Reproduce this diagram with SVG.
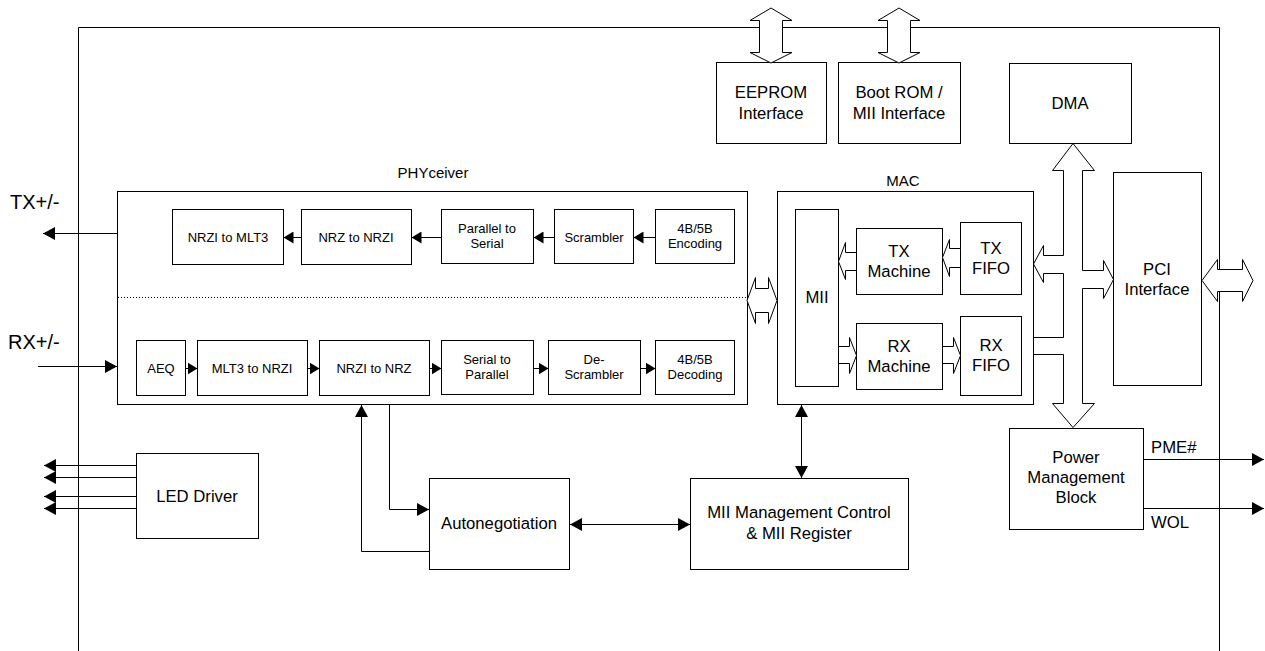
<svg xmlns="http://www.w3.org/2000/svg" width="1265" height="651" viewBox="0 0 1265 651">
<style>
.box{fill:#fff;stroke:#000;stroke-width:1}
.ln{fill:none;stroke:#000;stroke-width:1}
.hol{fill:#fff;stroke:#000;stroke-width:1}
text{font-family:"Liberation Sans",Arial,sans-serif;fill:#000;text-anchor:middle}
.t13{font-size:13px}
.t15{font-size:15px}
.t16{font-size:16.7px}
.t20{font-size:20px;text-anchor:start}
.lbl{font-size:16.7px;text-anchor:start}
</style>
<defs>
<marker id="ah" viewBox="0 0 12 12" refX="12" refY="6" markerWidth="12" markerHeight="13" markerUnits="userSpaceOnUse" orient="auto-start-reverse" preserveAspectRatio="none"><path d="M0,0 L12,6 L0,12 z" fill="#000"/></marker>
<marker id="as" viewBox="0 0 10 12" refX="10" refY="6" markerWidth="10" markerHeight="12" markerUnits="userSpaceOnUse" orient="auto-start-reverse"><path d="M0,0 L10,6 L0,12 z" fill="#000"/></marker>
</defs>
<rect width="1265" height="651" fill="#fff"/>
<g id="border"><path class="ln" d="M78.5,651 V27.5 H1219.5 V651"/></g>

<g id="eeprom"><rect class="box" x="716.5" y="62.5" width="110" height="81"/><text class="t16" x="771" y="98">EEPROM</text><text class="t16" x="771" y="119">Interface</text></g>
<g id="bootrom"><rect class="box" x="838.5" y="62.5" width="122" height="81"/><text class="t16" x="899" y="98">Boot ROM /</text><text class="t16" x="899" y="119">MII Interface</text></g>
<g id="dma"><rect class="box" x="1009.5" y="63.5" width="122" height="80"/><text class="t16" x="1070" y="109">DMA</text></g>

<g id="phyceiver"><text class="t15" x="433" y="178">PHYceiver</text><rect class="box" x="117.5" y="191.5" width="630" height="213"/><path d="M118,297.5 H747" fill="none" stroke="#000" stroke-width="1" stroke-dasharray="1,2"/></g>
<g id="nrzi2mlt3"><rect class="box" x="172.5" y="209.5" width="111" height="55"/><text class="t13" x="228" y="242">NRZI to MLT3</text></g>
<g id="nrz2nrzi"><rect class="box" x="301.5" y="209.5" width="110" height="55"/><text class="t13" x="356" y="242">NRZ to NRZI</text></g>
<g id="p2s"><rect class="box" x="441.5" y="209.5" width="92" height="54"/><text class="t13" x="487" y="233">Parallel to</text><text class="t13" x="487" y="248">Serial</text></g>
<g id="scrambler"><rect class="box" x="554.5" y="209.5" width="79" height="54"/><text class="t13" x="594" y="242">Scrambler</text></g>
<g id="enc"><rect class="box" x="655.5" y="209.5" width="79" height="54"/><text class="t13" x="695" y="233">4B/5B</text><text class="t13" x="695" y="248">Encoding</text></g>
<g id="aeq"><rect class="box" x="136.5" y="340.5" width="49" height="55"/><text class="t13" x="161" y="373">AEQ</text></g>
<g id="mlt32nrzi"><rect class="box" x="197.5" y="340.5" width="110" height="55"/><text class="t13" x="252" y="373">MLT3 to NRZI</text></g>
<g id="nrzi2nrz"><rect class="box" x="319.5" y="340.5" width="110" height="55"/><text class="t13" x="374" y="373">NRZI to NRZ</text></g>
<g id="s2p"><rect class="box" x="441.5" y="340.5" width="92" height="54"/><text class="t13" x="487" y="364">Serial to</text><text class="t13" x="487" y="379">Parallel</text></g>
<g id="descr"><rect class="box" x="548.5" y="340.5" width="92" height="54"/><text class="t13" x="594" y="364">De-</text><text class="t13" x="594" y="379">Scrambler</text></g>
<g id="dec"><rect class="box" x="655.5" y="340.5" width="79" height="54"/><text class="t13" x="695" y="364">4B/5B</text><text class="t13" x="695" y="379">Decoding</text></g>

<g id="mac"><text class="t15" x="903" y="186">MAC</text><rect class="box" x="777.5" y="191.5" width="256" height="213"/></g>
<g id="mii"><rect class="box" x="795.5" y="209.5" width="43" height="177"/><text class="t16" x="817" y="303">MII</text></g>
<g id="txmachine"><rect class="box" x="856.5" y="228.5" width="86" height="66"/><text class="t16" x="899" y="257">TX</text><text class="t16" x="899" y="277">Machine</text></g>
<g id="txfifo"><rect class="box" x="960.5" y="222.5" width="61" height="72"/><text class="t16" x="991" y="254">TX</text><text class="t16" x="991" y="274">FIFO</text></g>
<g id="rxmachine"><rect class="box" x="856.5" y="323.5" width="86" height="66"/><text class="t16" x="899" y="352">RX</text><text class="t16" x="899" y="372">Machine</text></g>
<g id="rxfifo"><rect class="box" x="960.5" y="316.5" width="61" height="79"/><text class="t16" x="991" y="351">RX</text><text class="t16" x="991" y="371">FIFO</text></g>

<g id="pci"><rect class="box" x="1113.5" y="172.5" width="88" height="213"/><text class="t16" x="1157" y="275">PCI</text><text class="t16" x="1157" y="295">Interface</text></g>
<g id="led"><rect class="box" x="136.5" y="453.5" width="122" height="85"/><text class="t16" x="197" y="502">LED Driver</text></g>
<g id="autoneg"><rect class="box" x="429.5" y="478.5" width="140" height="91"/><text class="t16" x="499" y="529">Autonegotiation</text></g>
<g id="miimgmt"><rect class="box" x="690.5" y="478.5" width="218" height="91"/><text class="t16" x="799" y="518">MII Management Control</text><text class="t16" x="799" y="539">&amp; MII Register</text></g>
<g id="power"><rect class="box" x="1009.5" y="428.5" width="134" height="101"/><text class="t16" x="1076" y="463">Power</text><text class="t16" x="1076" y="483">Management</text><text class="t16" x="1076" y="503">Block</text></g>

<g id="labels">
<text class="t20" x="10" y="209">TX+/-</text>
<text class="t20" x="8" y="349">RX+/-</text>
<text class="lbl" x="1151" y="453">PME#</text>
<text class="lbl" x="1151" y="528">WOL</text>
</g>

<g id="connectors">
<path class="hol" d="M771,8 L792,20.5 L782.5,20.5 L782.5,52.5 L792,52.5 L771,63 L750,52.5 L759.5,52.5 L759.5,20.5 L750,20.5 Z"/>
<path class="hol" d="M899,8 L920,20.5 L910.5,20.5 L910.5,52.5 L920,52.5 L899,63 L878,52.5 L887.5,52.5 L887.5,20.5 L878,20.5 Z"/>
<path class="hol" d="M747,300.5 L755.5,277.5 L755.5,288.5 L768.5,288.5 L768.5,277.5 L777,300.5 L768.5,323.5 L768.5,312.5 L755.5,312.5 L755.5,323.5 Z"/>
<path class="hol" d="M942.5,257.5 L949.5,239.5 L949.5,248.5 L960.5,248.5 L960.5,267.5 L949.5,267.5 L949.5,276.5 Z"/>
<path class="hol" d="M838.5,261.5 L845.5,242.5 L845.5,252.5 L856.5,252.5 L856.5,270.5 L845.5,270.5 L845.5,279.5 Z"/>
<path class="hol" d="M856.5,355.5 L849.5,337.5 L849.5,346.5 L838.5,346.5 L838.5,363.5 L849.5,363.5 L849.5,373.5 Z"/>
<path class="hol" d="M960.5,355.5 L953.5,337.5 L953.5,346.5 L942.5,346.5 L942.5,363.5 L953.5,363.5 L953.5,373.5 Z"/>
<path class="hol" d="M1202,280.5 L1217.5,259.5 L1217.5,269.5 L1242.5,269.5 L1242.5,259.5 L1253,280.5 L1242.5,301.5 L1242.5,291.5 L1217.5,291.5 L1217.5,301.5 Z"/>
<path class="ln" d="M1063.5,170.5 H1052.5 L1073,143.5 L1094.5,170.5 H1082.5"/>
<path class="ln" d="M1063.5,403.5 H1052.5 L1073,427.5 L1094.5,403.5 H1082.5"/>
<path class="ln" d="M1063.5,170.5 V255.5 H1043.5 V245.5 L1033.5,264 L1043.5,282.5 V273.5 H1063.5 V337.5 H1033.5 M1033.5,354.5 H1063.5 V403.5"/>
<path class="ln" d="M1082.5,170.5 V270.5 H1103.5 V260.5 L1113.5,279.5 L1103.5,298.5 V288.5 H1082.5 V403.5"/>
<path class="ln" d="M655,237.5 H633.5" marker-end="url(#as)"/>
<path class="ln" d="M554,237.5 H533.5" marker-end="url(#as)"/>
<path class="ln" d="M441,237.5 H411.5" marker-end="url(#as)"/>
<path class="ln" d="M301,237.5 H283.5" marker-end="url(#as)"/>
<path class="ln" d="M185.5,368.5 H197.5" marker-end="url(#as)"/>
<path class="ln" d="M307.5,368.5 H319.5" marker-end="url(#as)"/>
<path class="ln" d="M429.5,368.5 H441.5" marker-end="url(#as)"/>
<path class="ln" d="M533.5,368.5 H548.5" marker-end="url(#as)"/>
<path class="ln" d="M640.5,368.5 H655.5" marker-end="url(#as)"/>
<path class="ln" d="M117,233.5 H43" marker-end="url(#ah)"/>
<path class="ln" d="M38,366.5 H117" marker-end="url(#ah)"/>
<path class="ln" d="M136,465.5 H44" marker-end="url(#ah)"/>
<path class="ln" d="M136,477.5 H44" marker-end="url(#ah)"/>
<path class="ln" d="M136,496.5 H44" marker-end="url(#ah)"/>
<path class="ln" d="M136,508.5 H44" marker-end="url(#ah)"/>
<path class="ln" d="M389.5,405 V509.5 H429" marker-end="url(#ah)"/>
<path class="ln" d="M429,551.5 H361.5 V405" marker-end="url(#ah)"/>
<path class="ln" d="M570,524.5 H690" marker-start="url(#ah)" marker-end="url(#ah)"/>
<path class="ln" d="M801.5,405 V478" marker-start="url(#ah)" marker-end="url(#ah)"/>
<path class="ln" d="M1144,459.5 H1264" marker-end="url(#ah)"/>
<path class="ln" d="M1144,508.5 H1264" marker-end="url(#ah)"/>
</g>
</svg>
